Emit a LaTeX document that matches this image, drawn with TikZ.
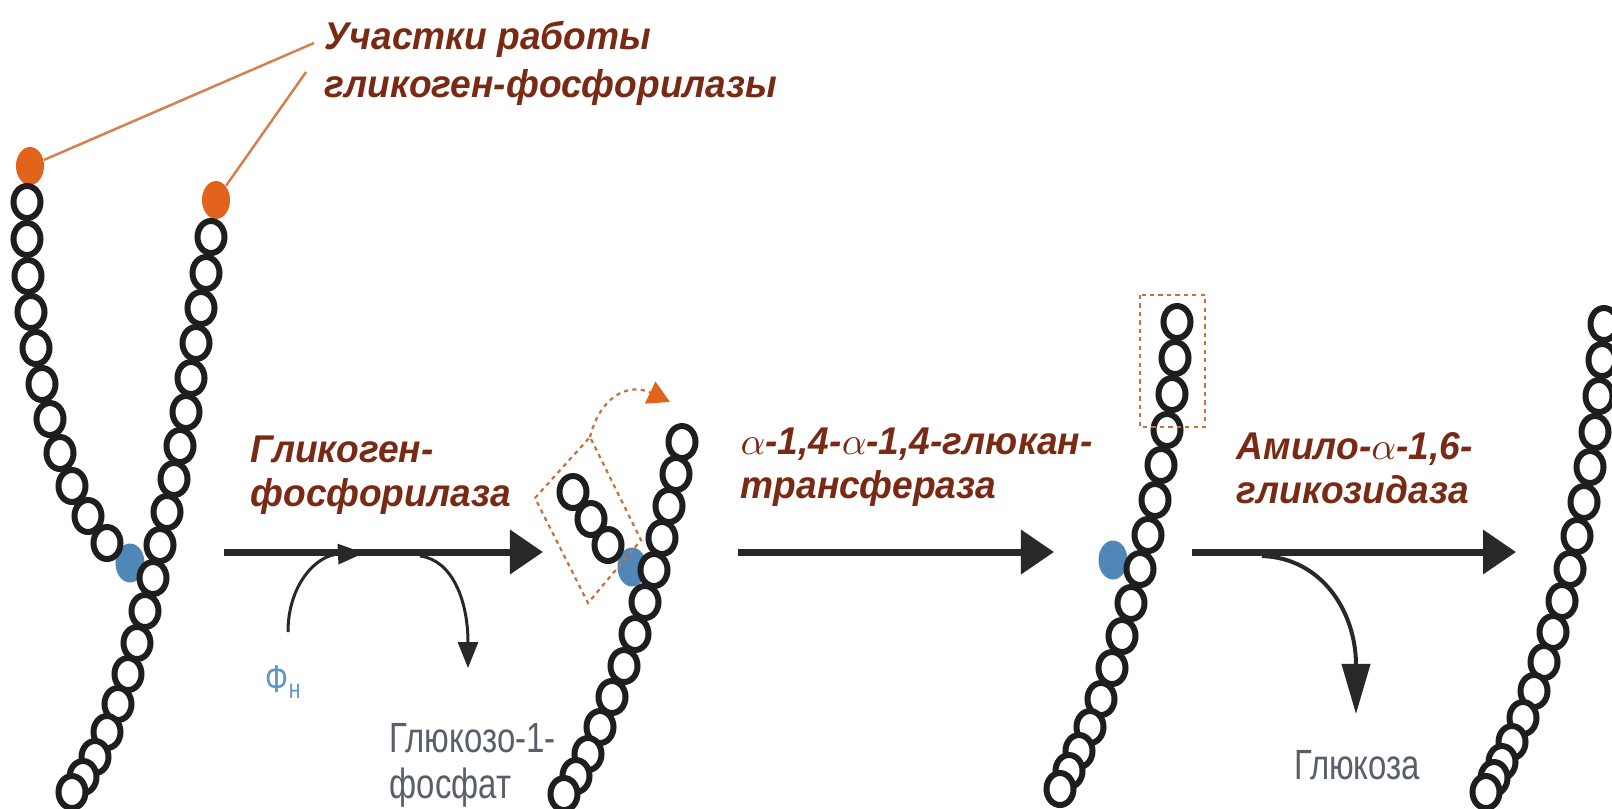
\documentclass[tikz,border=0pt]{standalone}
\usepackage{fontspec}
\setmainfont{Liberation Sans}
\newfontfamily\enzfont[FakeStretch=0.96]{Liberation Sans}
\newfontfamily\narrowfont[FakeStretch=0.78]{Liberation Sans}
\usetikzlibrary{arrows.meta, shapes.geometric, positioning}

\definecolor{beadline}{RGB}{30,30,30}
\definecolor{siteorange}{RGB}{226,100,28}
\definecolor{leaderorange}{RGB}{214,128,78}
\definecolor{cutorange}{RGB}{200,112,62}
\definecolor{branchblue}{RGB}{80,135,182}
\definecolor{pinblue}{RGB}{92,150,196}
\definecolor{enzbrown}{RGB}{120,42,20}
\definecolor{prodgray}{RGB}{88,95,105}
\definecolor{arrowgray}{RGB}{40,40,40}

\begin{document}
\begin{tikzpicture}[
                x=0.01cm, y=-0.01cm,
                bead/.style={ellipse, draw=beadline, fill=white, line width=0.06cm,
                             minimum width=0.27cm, minimum height=0.32cm, inner sep=0pt},
                site/.style={ellipse, fill=siteorange, minimum width=0.28cm,
                             minimum height=0.38cm, inner sep=0pt},
                branch/.style={ellipse, fill=branchblue, minimum width=0.29cm,
                               minimum height=0.39cm, inner sep=0pt},
                enzyme/.style={anchor=west, align=left, inner sep=0pt, text=enzbrown,
                               font=\enzfont\bfseries\itshape\fontsize{11}{12.6}\selectfont},
                product/.style={align=left, inner sep=0pt, text=prodgray,
                                font=\narrowfont\fontsize{12}{13}\selectfont},
                reaction/.style={draw=arrowgray, line width=0.07cm,
                                 -{Triangle[length=0.33cm, width=0.43cm]}},
                side/.style={draw=arrowgray, line width=0.03cm,
                             -{Triangle[length=0.26cm, width=0.2cm]}},
                leader/.style={draw=leaderorange, line width=0.025cm},
                cutbox/.style={draw=cutorange, line width=0.022cm, dash pattern=on 1.2pt off 1.2pt}
            ]

            \useasboundingbox (0,0) rectangle (1612,808);

            % Labels
            \node[enzyme, font=\enzfont\bfseries\itshape\fontsize{11}{13.6}\selectfont]
                (sites-label) at (324,63) {Участки работы\\гликоген-фосфорилазы};
            \node[enzyme] (enz-1) at (250,475) {Гликоген-\\фосфорилаза};
            \node[enzyme] (enz-2) at (740,467) {$\alpha$-1,4-$\alpha$-1,4-глюкан-\\трансфераза};
            \node[enzyme] (enz-3) at (1236,468) {Амило-$\alpha$-1,6-\\гликозидаза};

            \node[product, anchor=west] (g1p) at (389,765) {Глюкозо-1-\\фосфат};
            \node[product] (glc) at (1357,765) {Глюкоза};
            \node[inner sep=0pt, text=pinblue, font=\narrowfont\fontsize{11}{12}\selectfont]
                (pi) at (284,682) {Ф\textsubscript{н}};

            % Branch points
            \node[branch] (B-1) at (130,563) {};
            \node[branch] (B-2) at (632,567) {};
            \node[branch] (B-3) at (1113,560) {};

            % Chain 1: two outer branches
            \node[site] (O-1) at (30,166) {};
            \node[site] (O-2) at (216,200) {};

            \foreach \x/\y [count=\i] in {27/202, 27/239, 28/276, 31/312, 36/348, 42/384,
                                          50/419, 60/453, 72/486, 88/516, 107/543}
            \node[bead] (A-\i) at (\x,\y) {};

            \foreach \x/\y [count=\i] in {211/237, 206/273, 201/308, 196/343, 191/378,
                                          186/412, 180/446, 174/479, 167/512, 160/545,
                                          153/578, 145/611, 137/643, 128/674, 118/704,
                                          107/732, 95/757, 83/777, 72/792}
            \node[bead] (M-\i) at (\x,\y) {};

            % Chain 2: three residues cut off
            \foreach \x/\y [count=\i] in {573/492, 591/519, 608/545}
            \node[bead] (C-\i) at (\x,\y) {};

            \foreach \x/\y [count=\i] in {682/442, 676/474, 669/506, 662/538, 654/570,
                                          645/602, 635/634, 624/666, 612/697, 600/727,
                                          588/754, 576/776, 564/794}
            \node[bead] (N-\i) at (\x,\y) {};

            \coordinate (cut-l) at (535,498);
            \coordinate (cut-t) at (590,437);
            \coordinate (cut-r) at (641,540);
            \coordinate (cut-b) at (588,603);
            \draw[cutbox] (cut-l) -- (cut-t) -- (cut-r) -- (cut-b) -- cycle;
            \coordinate (move-end) at (670,402);
            \draw[cutbox, -{Triangle[length=0.22cm, width=0.24cm, color=siteorange]}]
                (cut-t) .. controls (600,397) and (628,382) .. (move-end);

            % Chain 3: single residue left at the branch
            \foreach \x/\y [count=\i] in {1177/322, 1175/358, 1172/394, 1167/430, 1161/465,
                                          1155/500, 1148/535, 1140/569, 1131/603, 1122/636,
                                          1112/668, 1101/699, 1090/727, 1079/751, 1069/771,
                                          1060/789}
            \node[bead] (P-\i) at (\x,\y) {};
            \draw[cutbox] (1140,295) rectangle (1205,427);

            % Chain 4: unbranched
            \foreach \x/\y [count=\i] in {1604/324, 1602/360, 1599/396, 1595/432, 1590/467,
                                          1584/502, 1577/536, 1570/569, 1562/601, 1553/632,
                                          1544/662, 1534/691, 1523/718, 1512/742, 1502/762,
                                          1494/778, 1486/792}
            \node[bead] (Q-\i) at (\x,\y) {};

            % Leader lines to the phosphorylase sites
            \coordinate (sites-1) at (314,43);
            \coordinate (sites-2) at (306,72);
            \draw[leader] (sites-1) -- (O-1);
            \draw[leader] (sites-2) -- (O-2);

            % Reaction arrows
            \coordinate (r1-s) at (224,552);
            \coordinate (r1-e) at (543,552);
            \coordinate (r2-s) at (738,552);
            \coordinate (r2-e) at (1054,552);
            \coordinate (r3-s) at (1192,552);
            \coordinate (r3-e) at (1516,552);
            \draw[reaction] (r1-s) -- (r1-e);
            \draw[reaction] (r2-s) -- (r2-e);
            \draw[reaction] (r3-s) -- (r3-e);

            % Side products and substrate
            \coordinate (pi-in) at (288,632);
            \coordinate (pi-join) at (364,553);
            \draw[side] (pi-in) .. controls (288,585) and (316,555) .. (pi-join);

            \coordinate (g1p-out) at (420,556);
            \coordinate (g1p-end) at (468,668);
            \draw[side] (g1p-out) .. controls (452,560) and (468,600) .. (g1p-end);

            \coordinate (glc-out) at (1262,556);
            \coordinate (glc-end) at (1356,714);
            \draw[side, line width=0.04cm, -{Triangle[length=0.5cm, width=0.28cm]}]
                (glc-out) .. controls (1322,558) and (1356,612) .. (glc-end);

        \end{tikzpicture}
\end{document}
